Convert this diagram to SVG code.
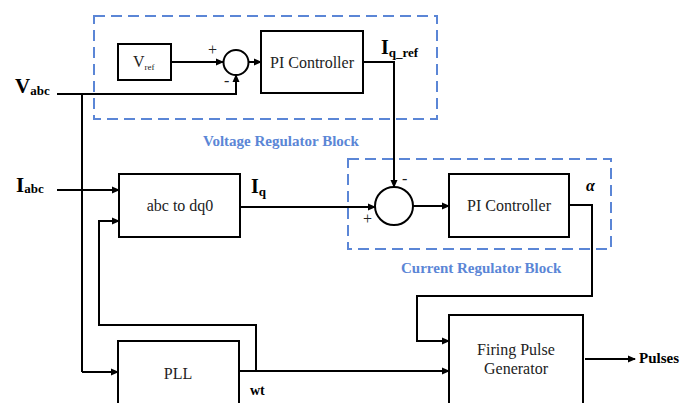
<svg xmlns="http://www.w3.org/2000/svg" width="691" height="403" viewBox="0 0 691 403">
<defs>
<marker id="ah" markerWidth="8" markerHeight="8" refX="7" refY="4" orient="auto" markerUnits="userSpaceOnUse">
<path d="M0,0.5 L8,4 L0,7.5 Z" fill="#000"/>
</marker>
<style>
.box{fill:#fff;stroke:#000;stroke-width:2}
.ln{fill:none;stroke:#000;stroke-width:2}
.arr{fill:none;stroke:#000;stroke-width:2;marker-end:url(#ah)}
.dash{fill:none;stroke:#5b86d6;stroke-width:2;stroke-dasharray:11 6}
.t{font-family:"Liberation Serif","Times New Roman",serif;font-size:16px;fill:#222}
.b{font-family:"Liberation Serif","Times New Roman",serif;font-weight:bold;fill:#000}
.blue{font-family:"Liberation Serif","Times New Roman",serif;font-weight:bold;font-size:15px;fill:#5b86d6}
</style>
</defs>
<rect width="691" height="403" fill="#fff"/>

<g id="voltage-block">
<rect class="dash" x="94" y="16" width="343" height="103"/>
<text class="blue" x="203" y="146">Voltage Regulator Block</text>
</g>
<g id="current-block">
<rect class="dash" x="348" y="159" width="263" height="90"/>
<text class="blue" x="401" y="273">Current Regulator Block</text>
</g>

<g id="connectors">
<path class="arr" d="M171,62 H223"/>
<path class="arr" d="M248.5,62 H261"/>
<path class="arr" d="M57,94 H236 V75"/>
<path class="ln" d="M82,94 V372"/>
<path class="arr" d="M82,372 H118"/>
<path class="arr" d="M363,62 H394 V187"/>
<path class="arr" d="M57,190 H119"/>
<path class="arr" d="M241,207 H375"/>
<path class="arr" d="M413,206 H449"/>
<path class="arr" d="M569,205 H592 V296 H417 V341 H449"/>
<path class="arr" d="M239,371 H449"/>
<path class="arr" d="M256,371 V325 H99 V221 H119"/>
<path class="arr" d="M585,359 H635"/>
</g>

<g id="vref">
<rect class="box" x="118" y="44" width="53" height="36"/>
<text class="t" x="133" y="67" font-size="15">V<tspan font-size="9" dy="3">ref</tspan></text>
</g>
<g id="sum1">
<circle class="box" cx="236" cy="62.5" r="12.5"/>
<text class="t" x="208" y="55" font-size="13">+</text>
<text class="t" x="224" y="86" font-size="14">-</text>
</g>
<g id="pi1">
<rect class="box" x="261" y="31" width="102" height="62"/>
<text class="t" x="312" y="68" text-anchor="middle">PI Controller</text>
</g>
<g id="abc-dq0">
<rect class="box" x="119" y="174" width="121" height="63"/>
<text class="t" x="180" y="211" text-anchor="middle">abc to dq0</text>
</g>
<g id="sum2">
<circle class="box" cx="394" cy="206" r="19"/>
<text class="t" x="402" y="184" font-size="14">-</text>
<text class="t" x="363" y="224" font-size="14">+</text>
</g>
<g id="pi2">
<rect class="box" x="449" y="174" width="120" height="63"/>
<text class="t" x="509" y="211" text-anchor="middle">PI Controller</text>
</g>
<g id="pll">
<rect class="box" x="118" y="341" width="121" height="75"/>
<text class="t" x="178" y="379" text-anchor="middle">PLL</text>
</g>
<g id="fpg">
<rect class="box" x="449" y="315" width="134" height="100"/>
<text class="t" x="516" y="355" text-anchor="middle">Firing Pulse</text>
<text class="t" x="516" y="374" text-anchor="middle">Generator</text>
</g>

<g id="labels">
<text class="b" x="15" y="93" font-size="21">V<tspan font-size="13" dy="2">abc</tspan></text>
<text class="b" x="16" y="192" font-size="21">I<tspan font-size="13" dy="1">abc</tspan></text>
<text class="b" x="381" y="54" font-size="20">I<tspan font-size="13" dy="3">q_ref</tspan></text>
<text class="b" x="251" y="193" font-size="20">I<tspan font-size="13" dy="3">q</tspan></text>
<text class="b" x="586" y="191" font-size="16" font-style="italic">α</text>
<text class="b" x="250" y="395" font-size="14">wt</text>
<text class="b" x="639" y="363" font-size="15">Pulses</text>
</g>
</svg>
